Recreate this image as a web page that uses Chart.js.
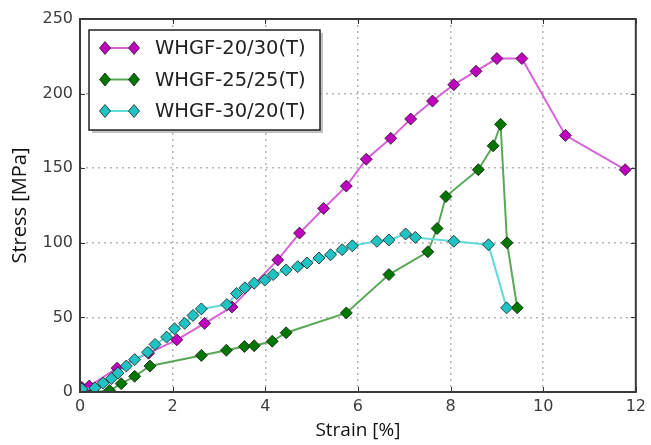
<!DOCTYPE html>
<html>
<head>
<meta charset="utf-8">
<script src="https://cdn.jsdelivr.net/npm/chart.js@4.4.0/dist/chart.umd.min.js"></script>
<style>
    html, body { margin: 0; padding: 0; background: #fff; }
    #wrap { width: 651px; height: 445px; }
</style>
</head>
<body>
<div id="wrap"><canvas id="stressChart" width="651" height="445"></canvas></div>
<script>
// Series labels
const seriesNames = ['WHGF-20/30(T)', 'WHGF-25/25(T)', 'WHGF-30/20(T)'];

// WHGF-20/30(T)
const strainA = [0.04, 0.2, 0.8, 1.48, 2.09, 2.69, 3.28, 4.27, 4.74, 5.26, 5.75, 6.18, 6.71, 7.14, 7.61, 8.07, 8.55, 9.0, 9.54, 10.48, 11.77];
const stressA = [3, 4, 16, 26, 35, 46, 57, 88.5, 106.5, 123, 138, 156, 170, 183, 195, 206, 215, 223.5, 223.5, 172, 149];

// WHGF-25/25(T)
const strainB = [0.3, 0.64, 0.89, 1.18, 1.51, 2.62, 3.16, 3.55, 3.76, 4.15, 4.45, 5.75, 6.67, 7.51, 7.71, 7.9, 8.6, 8.92, 9.08, 9.22, 9.44];
const stressB = [0, 1, 5.6, 10.5, 17.4, 24.5, 28, 30.5, 31, 34, 39.7, 53, 78.7, 94, 109.6, 131, 149, 165, 179.4, 100, 56.4];

// WHGF-30/20(T)
const strainC = [0.04, 0.32, 0.5, 0.68, 0.82, 1.0, 1.18, 1.46, 1.62, 1.87, 2.04, 2.26, 2.44, 2.62, 3.17, 3.38, 3.56, 3.76, 3.99, 4.17, 4.45, 4.7, 4.9, 5.16, 5.41, 5.66, 5.88, 6.41, 6.67, 7.03, 7.24, 8.07, 8.82, 9.21];
const stressC = [2, 2.7, 6, 9, 12.7, 17.4, 21.7, 26.7, 31.9, 36.8, 42.4, 46, 51.3, 55.7, 58.6, 66, 69.8, 72.9, 75, 78.7, 81.8, 84, 86.5, 89.8, 92, 95.4, 98, 101, 101.9, 105.9, 103.6, 101, 98.7, 56.4];

// Axis ticks
const xTickValues = [0, 2, 4, 6, 8, 10, 12];
const yTickValues = [0, 50, 100, 150, 200, 250];

const markerColors = ['#bf00bf', '#007800', '#1fc3c3'];
const lineColors = ['#d862d8', '#58a858', '#62dada'];

function toPoints(xs, ys) {
    return xs.map((x, i) => ({ x: x, y: ys[i] }));
}

const seriesData = [toPoints(strainA, stressA), toPoints(strainB, stressB), toPoints(strainC, stressC)];

const datasets = seriesData.map((pts, i) => ({
    label: seriesNames[i],
    data: pts,
    showLine: true,
    borderColor: lineColors[i],
    borderWidth: 2,
    pointStyle: 'rectRot',
    pointRadius: 6,
    pointBackgroundColor: markerColors[i],
    pointBorderColor: '#1a1a1a',
    pointBorderWidth: 0.8,
    order: 3 - i
}));

// Frame, inward ticks and the boxed legend
const framePlugin = {
    id: 'frame',
    afterDraw(chart) {
        const ctx = chart.ctx;
        const a = chart.chartArea;
        const xs = chart.scales.x, ys = chart.scales.y;
        ctx.save();
        ctx.strokeStyle = '#333';
        ctx.lineWidth = 1;
        xs.ticks.forEach(t => {
            const px = Math.round(xs.getPixelForValue(t.value)) + 0.5;
            ctx.beginPath();
            ctx.moveTo(px, a.bottom); ctx.lineTo(px, a.bottom - 5);
            ctx.moveTo(px, a.top); ctx.lineTo(px, a.top + 5);
            ctx.stroke();
        });
        ys.ticks.forEach(t => {
            const py = Math.round(ys.getPixelForValue(t.value)) + 0.5;
            ctx.beginPath();
            ctx.moveTo(a.left, py); ctx.lineTo(a.left + 5, py);
            ctx.moveTo(a.right, py); ctx.lineTo(a.right - 5, py);
            ctx.stroke();
        });
        ctx.lineWidth = 2;
        ctx.strokeStyle = '#3a3a3a';
        ctx.strokeRect(a.left, a.top, a.right - a.left, a.bottom - a.top);

        // legend box
        const bx = 89, by = 30, bw = 231, bh = 100;
        ctx.fillStyle = 'rgba(120,120,120,0.45)';
        ctx.fillRect(bx + 3, by + 3, bw, bh);
        ctx.fillStyle = '#fff';
        ctx.fillRect(bx, by, bw, bh);
        ctx.lineWidth = 1.5;
        ctx.strokeStyle = '#222';
        ctx.strokeRect(bx, by, bw, bh);

        chart.data.datasets.forEach((ds, i) => {
            const ry = by + 18 + i * 31.5;
            ctx.strokeStyle = ds.borderColor;
            ctx.lineWidth = 2;
            ctx.beginPath();
            ctx.moveTo(105, ry); ctx.lineTo(134, ry);
            ctx.stroke();
            [105, 134].forEach(mx => {
                ctx.beginPath();
                ctx.moveTo(mx, ry - 6.5);
                ctx.lineTo(mx + 5.5, ry);
                ctx.lineTo(mx, ry + 6.5);
                ctx.lineTo(mx - 5.5, ry);
                ctx.closePath();
                ctx.fillStyle = ds.pointBackgroundColor;
                ctx.fill();
                ctx.lineWidth = 0.8;
                ctx.strokeStyle = '#1a1a1a';
                ctx.stroke();
            });
            ctx.fillStyle = '#222';
            ctx.font = '19.5px "DejaVu Sans"';
            ctx.textBaseline = 'middle';
            ctx.textAlign = 'left';
            ctx.fillText(ds.label, 155, ry + 1);
        });
        ctx.restore();
    }
};

const ctx = document.getElementById('stressChart');
new Chart(ctx, {
    type: 'scatter',
    data: { datasets: datasets },
    options: {
        responsive: false,
        animation: false,
        layout: { padding: { top: 19, right: 9, left: 0, bottom: 0 } },
        plugins: {
            legend: { display: false },
            tooltip: { enabled: false }
        },
        scales: {
            x: {
                type: 'linear',
                min: 0,
                max: 12,
                afterBuildTicks: s => { s.ticks = xTickValues.map(v => ({ value: v })); },
                afterFit: s => { s.height = 53; },
                grid: { color: '#b4b4b4', lineWidth: 1.5, drawTicks: false },
                border: { display: false, dash: [2, 4] },
                ticks: {
                    padding: 5,
                    color: '#3c3c3c',
                    font: { family: 'DejaVu Sans', size: 16 },
                    maxRotation: 0
                },
                title: {
                    display: true,
                    text: 'Strain [%]',
                    color: '#111',
                    font: { family: 'Open Sans', size: 19 },
                    padding: { top: 0, bottom: 3 }
                }
            },
            y: {
                type: 'linear',
                min: 0,
                max: 250,
                afterBuildTicks: s => { s.ticks = yTickValues.map(v => ({ value: v })); },
                afterFit: s => { s.width = 80; },
                grid: { color: '#b4b4b4', lineWidth: 1.5, drawTicks: false },
                border: { display: false, dash: [2, 4] },
                ticks: {
                    padding: 7,
                    color: '#3c3c3c',
                    font: { family: 'DejaVu Sans', size: 16 }
                },
                title: {
                    display: true,
                    text: 'Stress [MPa]',
                    color: '#111',
                    font: { family: 'Open Sans', size: 20 },
                    padding: { top: 8, bottom: 0 }
                }
            }
        }
    },
    plugins: [framePlugin]
});
</script>
</body>
</html>
